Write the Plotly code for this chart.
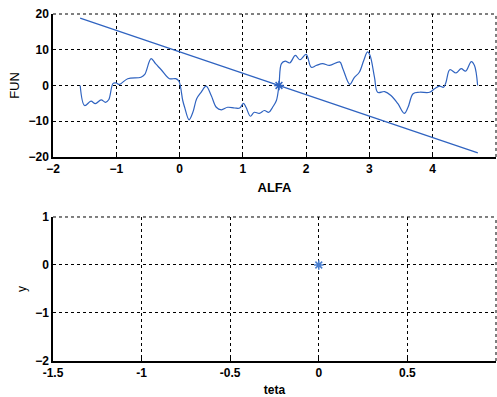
import numpy as np
import plotly.graph_objects as go

# Top panel: FUN vs ALFA (curve)
alfa = [-1.57, -1.50, -1.40, -1.33, -1.24, -1.17, -1.12, -1.05, -1.00, -0.95, -0.82, -0.61,
        -0.55, -0.45, -0.38, -0.29, -0.16, -0.06, -0.01, 0.05, 0.08, 0.15, 0.21, 0.27, 0.34,
        0.42, 0.50, 0.58, 0.66, 0.76, 0.87, 0.95, 1.01, 1.05, 1.12, 1.18, 1.26, 1.34, 1.41,
        1.47, 1.53, 1.57, 1.61, 1.67, 1.74, 1.83, 1.90, 2.00, 2.08, 2.16, 2.26, 2.37, 2.53,
        2.58, 2.69, 2.76, 2.84, 2.91, 2.97, 3.01, 3.08, 3.13, 3.24, 3.34, 3.45, 3.55, 3.61,
        3.69, 3.79, 3.95, 4.03, 4.11, 4.17, 4.21, 4.27, 4.37, 4.45, 4.52, 4.61, 4.66, 4.71]
fun = [0.0, -5.6, -4.4, -5.1, -4.0, -4.7, -4.0, 0.6, 0.7, 0.3, 1.9, 2.3,
       3.1, 7.5, 6.1, 4.4, 1.9, 1.9, 1.2, -4.2, -6.1, -9.6, -7.5, -3.7, -1.9,
       -0.2, -2.8, -6.1, -6.8, -6.1, -6.3, -6.3, -5.0, -6.1, -8.6, -7.5, -7.8, -7.0, -7.5,
       -6.1, -4.2, 0.0, 6.1, 6.8, 6.3, 8.4, 7.2, 8.7, 5.1, 5.6, 6.1, 5.6, 6.6,
       4.7, 0.3, 2.2, 3.7, 7.0, 9.4, 8.4, 2.3, -1.9, -1.7, -2.8, -5.1, -7.8, -6.1,
       -2.3, -1.9, -1.9, -0.9, -0.2, -0.5, 0.9, 4.4, 3.5, 4.7, 4.0, 6.7, 5.6, 0.0]
line_x = [-1.5708, 4.7124]
line_y = [18.85, -18.85]
root_x = [1.5708]
root_y = [0.0]

# Bottom panel
teta = [0.0]
yval = [0.0]

top_xticks = [-2, -1, 0, 1, 2, 3, 4, 5]
top_yticks = [-20, -10, 0, 10, 20]
bot_xticks = [-1.5, -1, -0.5, 0, 0.5, 1]
bot_xlabels = ["-1.5", "-1", "-0.5", "0", "0.5", "1"]
bot_yticks = [-2, -1, 0, 1]

BLUE = "#2f63c0"
fig = go.Figure()
fig.add_trace(go.Scatter(x=alfa, y=fun, mode="lines", line=dict(color=BLUE, width=1.2),
                         line_shape="spline", xaxis="x", yaxis="y"))
fig.add_trace(go.Scatter(x=line_x, y=line_y, mode="lines", line=dict(color=BLUE, width=1.2),
                         xaxis="x", yaxis="y"))
fig.add_trace(go.Scatter(x=root_x, y=root_y, mode="markers",
                         marker=dict(symbol="asterisk-open", size=8, color=BLUE,
                                     line=dict(color=BLUE, width=1.5)),
                         xaxis="x", yaxis="y"))
fig.add_trace(go.Scatter(x=teta, y=yval, mode="markers",
                         marker=dict(symbol="asterisk-open", size=8, color="#4a7fd0",
                                     line=dict(color="#4a7fd0", width=1.5)),
                         xaxis="x2", yaxis="y2"))

tickfont = dict(family="Liberation Sans", size=12, color="black", weight="bold")
common = dict(showgrid=True, gridcolor="black", griddash="3px,3px", gridwidth=1,
              zeroline=False, showline=True, linecolor="black", linewidth=1.5,
              ticks="inside", ticklen=3, tickcolor="black", tickfont=tickfont, mirror=False)

# dashed frame edges (top and right) like the reference's grid box
shapes = []
for xr, yr in (("x domain", "y domain"), ("x2 domain", "y2 domain")):
    shapes.append(dict(type="line", xref=xr, yref=yr, x0=0, x1=1, y0=1, y1=1,
                       line=dict(color="black", width=1, dash="3px,3px")))
    shapes.append(dict(type="line", xref=xr, yref=yr, x0=1, x1=1, y0=0, y1=1,
                       line=dict(color="black", width=1, dash="3px,3px")))

fig.update_layout(
    width=497, height=397,
    margin=dict(l=53, r=1, t=14, b=36),
    paper_bgcolor="white", plot_bgcolor="white",
    showlegend=False,
    shapes=shapes,
    xaxis=dict(domain=[0, 1], anchor="y", range=[-2, 5], tickvals=top_xticks,
               title=dict(text="ALFA", standoff=8, font=dict(family="Liberation Sans", size=13, color="black", weight="bold")),
               **common),
    yaxis=dict(domain=[0.588, 1], anchor="x", range=[-20, 20], tickvals=top_yticks,
               title=dict(text="FUN", standoff=6, font=dict(family="Liberation Sans", size=13, color="black")),
               **common),
    xaxis2=dict(domain=[0, 1], anchor="y2", range=[-1.5, 1], tickvals=bot_xticks, ticktext=bot_xlabels,
                title=dict(text="teta", standoff=6, font=dict(family="Liberation Sans", size=12, color="black", weight="bold")),
                **common),
    yaxis2=dict(domain=[0, 0.415], anchor="x2", range=[-2, 1], tickvals=bot_yticks,
                title=dict(text="y", standoff=6, font=dict(family="Liberation Sans", size=12, color="black")),
                **common),
)

fig.write_html("out.html")
